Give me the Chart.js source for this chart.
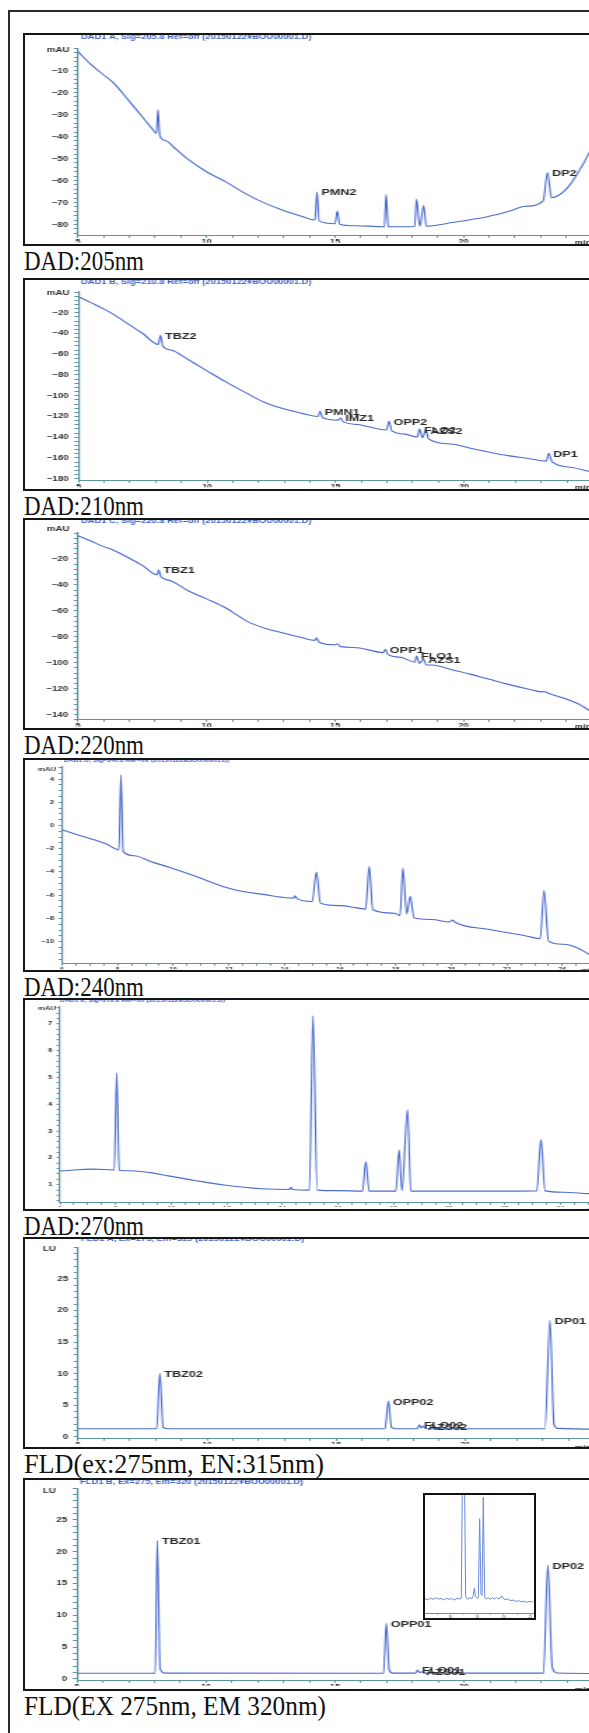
<!DOCTYPE html>
<html><head><meta charset="utf-8">
<script src="https://cdn.jsdelivr.net/npm/chart.js@4.4.1/dist/chart.umd.min.js"></script>
<style>
html,body{margin:0;padding:0;width:589px;height:1733px;overflow:hidden;background:#fff;}
#frame{position:absolute;left:8px;top:10px;width:700px;height:1800px;border:2px solid #2a2a2a;box-sizing:border-box;}
.panel{position:absolute;left:23px;width:620px;border:2px solid #161616;box-sizing:border-box;background:#fff;overflow:hidden;}
.panel canvas{position:absolute;left:0;top:0;}
.cap{position:absolute;left:24px;font-family:"Liberation Serif","DejaVu Serif",serif;font-size:28px;line-height:1;color:#111;white-space:pre;transform-origin:0 0;display:inline-block;}
#inset{position:absolute;left:423px;top:1493px;width:113px;height:127px;border:2px solid #111;box-sizing:border-box;background:#fff;overflow:hidden;}
</style></head><body>
<div id="frame"></div>
<div id="root"></div>
<script>
// ================= DATA =================
const dad205Time   = [5.0,5.5,6.0,6.4,7.0,7.5,7.9,8.05,8.11,8.18,8.4,8.8,9.3,10.0,10.75,11.5,12.2,13.0,13.7,14.22,14.3,14.38,15.0,15.09,15.18,15.8,16.6,16.92,16.99,17.07,17.6,18.1,18.17,18.3,18.45,18.55,19.0,19.5,20.2,21.0,21.8,22.4,23.1,23.27,23.42,24.0,24.54,24.9,25.3];
const dad205Signal = [-1.4,-7.2,-12.0,-15.8,-24.0,-31.0,-36.6,-38.6,-27.7,-39.4,-41.8,-45.6,-50.5,-56.0,-60.6,-65.8,-69.9,-73.6,-76.2,-77.9,-65.1,-78.3,-79.6,-73.8,-79.8,-80.5,-80.9,-81.0,-66.3,-81.0,-81.0,-80.9,-68.4,-80.8,-71.4,-80.7,-80.2,-79.2,-77.9,-76.2,-73.8,-71.7,-69.2,-56.3,-67.8,-63.9,-54.8,-47.2,-38.0];

const dad210Time   = [5.0,5.5,6.0,6.36,7.0,7.5,8.1,8.19,8.28,8.6,9.28,10.0,10.75,11.5,12.2,12.94,13.7,14.32,14.4,14.5,15.1,15.2,15.3,15.86,16.98,17.08,17.2,17.7,18.18,18.27,18.38,18.52,18.62,19.5,20.25,21.0,21.7,22.5,23.2,23.3,23.42,24.2,24.9,25.5];
const dad210Signal = [-4.5,-10.5,-16.5,-21.6,-32.0,-40.0,-50.5,-41.7,-52.3,-56.0,-65.3,-76.0,-86.9,-97.0,-106.0,-112.4,-117.0,-120.0,-115.0,-121.2,-123.5,-121.4,-125.2,-127.7,-133.0,-124.6,-134.2,-137.0,-139.8,-132.2,-140.5,-133.0,-141.6,-146.5,-150.7,-154.5,-157.7,-160.5,-163.0,-155.5,-163.6,-169.2,-173.0,-176.0];

const dad220Time   = [5.0,5.5,6.0,6.36,7.0,7.5,8.08,8.14,8.22,8.6,9.28,10.0,10.75,11.62,12.3,12.94,13.7,14.22,14.28,14.38,15.0,15.09,15.22,15.86,16.88,16.96,17.06,17.6,18.1,18.17,18.28,18.45,18.55,18.79,19.5,20.25,21.0,21.7,22.5,23.05,23.15,23.3,23.9,24.5,24.9,25.3];
const dad220Signal = [-2.1,-6.2,-10.5,-13.1,-19.5,-25.0,-32.2,-28.4,-33.5,-36.8,-44.5,-50.8,-57.8,-68.5,-73.6,-76.9,-80.6,-82.8,-80.8,-84.2,-86.2,-85.4,-87.6,-88.4,-92.2,-89.7,-93.8,-96.0,-99.6,-94.8,-100.5,-97.4,-101.8,-101.7,-105.2,-108.8,-112.8,-116.5,-120.2,-122.5,-122.2,-123.6,-127.2,-132.0,-136.9,-141.0];

const dad240Time   = [6.0,6.5,7.15,7.6,8.05,8.12,8.2,8.6,9.18,9.85,10.8,11.88,12.55,13.3,13.9,14.33,14.38,14.45,15.0,15.15,15.3,16.0,16.6,16.92,17.05,17.18,17.96,18.16,18.26,18.4,18.53,18.66,19.3,19.95,20.05,20.15,21.34,22.7,23.2,23.34,23.5,24.04,24.5,24.96,25.3];
const dad240Signal = [-0.37,-0.75,-1.23,-1.6,-2.1,4.34,-2.25,-2.6,-3.09,-3.6,-4.37,-5.31,-5.71,-5.95,-6.17,-6.25,-6.05,-6.3,-6.55,-4.0,-6.7,-6.9,-7.09,-7.2,-3.54,-7.25,-7.55,-7.75,-3.66,-7.6,-6.09,-7.95,-8.09,-8.3,-8.15,-8.35,-8.94,-9.51,-9.75,-5.6,-9.95,-10.23,-10.5,-11.09,-11.5];

const dad270Time   = [6.0,7.2,7.95,8.04,8.13,8.5,9.24,9.9,10.85,11.9,13.25,14.25,14.3,14.37,14.97,15.1,15.25,16.0,16.88,17.0,17.12,18.08,18.2,18.3,18.5,18.62,19.5,21.4,23.15,23.3,23.45,24.1,25.0,25.3];
const dad270Signal = [1.51,1.58,1.55,5.16,1.54,1.52,1.45,1.33,1.16,0.99,0.85,0.82,0.9,0.82,0.80,7.3,0.80,0.78,0.76,1.86,0.76,0.76,2.29,0.78,3.8,0.76,0.76,0.76,0.77,2.68,0.77,0.72,0.67,0.66];

const fld315Time   = [5.0,8.05,8.17,8.3,8.45,16.9,17.03,17.15,17.3,18.15,18.23,18.3,18.38,18.48,23.1,23.29,23.45,23.6,25.5];
const fld315Signal = [1.29,1.29,10.05,1.5,1.3,1.29,5.67,1.5,1.3,1.3,1.9,1.4,1.7,1.3,1.3,18.45,2.0,1.35,1.22];

const fld320Time   = [5.0,8.03,8.11,8.22,8.4,16.88,16.99,17.1,17.25,18.12,18.2,18.28,18.36,18.45,23.08,23.25,23.42,23.6,25.5];
const fld320Signal = [0.88,0.88,21.75,1.6,0.9,0.88,8.76,1.4,0.9,0.9,1.4,1.0,1.13,0.9,0.9,17.9,1.8,0.92,0.85];

const insetTime   = [14.1,14.3,14.5,14.7,14.9,15.1,15.3,15.5,15.7,15.9,16.1,16.3,16.5,16.7,16.82,16.92,17.05,17.15,17.3,17.45,17.6,17.72,17.8,17.88,18.0,18.1,18.2,18.3,18.38,18.47,18.58,18.7,18.85,19.0,19.15,19.3,19.45,19.6,19.75,19.85,19.95,20.1,20.3,20.5,20.7,20.9,21.1,21.3,21.5,21.7,21.9,22.1,22.2];
const insetSignal = [12.0,11.2,12.6,11.5,12.9,11.8,12.3,11.1,12.5,11.6,12.2,11.0,12.4,11.8,12.5,130,130,14,11.5,13,12,15,21,14,12.5,13,80,16,15,98,13,12,12.8,11.6,12.9,11.8,13.2,12.0,12.6,14.5,12.8,11.2,11.9,10.4,11.0,9.8,10.5,9.4,10.1,9.0,9.8,9.3,9.6];

// tick labels
const dad205YTicks = [-10,-20,-30,-40,-50,-60,-70,-80];
const dad210YTicks = [-20,-40,-60,-80,-100,-120,-140,-160,-180];
const dad220YTicks = [-20,-40,-60,-80,-100,-120,-140];
const dad240YTicks = [4,2,0,-2,-4,-6,-8,-10];
const dad270YTicks = [7,6,5,4,3,2,1];
const fldYTicks    = [25,20,15,10,5,0];
const minuteTicksA = [5,10,15,20];
const minuteTicksB = [6,8,10,12,14,16,18,20,22,24];
const insetXTicks  = [16,18,20,22];

// peak labels
const dad205PeakNames = ['PMN2','DP2'];
const dad205PeakTimes = [14.3,23.27];
const dad205PeakTops  = [-65.1,-56.3];
const dad210PeakNames = ['TBZ2','PMN1','IMZ1','OPP2','FLO2','AZS2','DP1'];
const dad210PeakTimes = [8.19,14.4,15.2,17.08,18.27,18.52,23.3];
const dad210PeakTops  = [-41.7,-115,-121.4,-124.6,-132.2,-134,-155.5];
const dad220PeakNames = ['TBZ1','OPP1','FLO1','AZS1'];
const dad220PeakTimes = [8.14,16.96,18.17,18.45];
const dad220PeakTops  = [-28.4,-89.7,-94.8,-97.4];
const fld315PeakNames = ['TBZ02','OPP02','FLO02','AZS02','DP01'];
const fld315PeakTimes = [8.17,17.03,18.23,18.38,23.29];
const fld315PeakTops  = [10.05,5.67,1.9,1.7,18.45];
const fld320PeakNames = ['TBZ01','OPP01','FLO01','AZS01','DP02'];
const fld320PeakTimes = [8.11,16.99,18.2,18.36,23.25];
const fld320PeakTops  = [21.75,8.76,1.4,1.13,17.9];

// ================= LAYOUT =================
Chart.defaults.font.family = '"Liberation Sans", Arial, sans-serif';
const TRACE = '#4a6bd0', AXIS = '#5f93a2', TICKTXT = '#2f2f2f', HEAD = '#3a5fcb';
const SX = 1.4; // horizontal stretch of the pasted chromatograms

const panels = [
 {boxTop:33, boxBottom:246, axisX:78, xMin:5, xMax:25.5, ppm:25.7, yTopPx:48.6, yMax:0, yBotPx:237, yMin:-85.1,
  t:dad205Time, v:dad205Signal, yMaj:dad205YTicks, yStep:2, xMaj:minuteTicksA, xStep:1,
  header:'DAD1 A, Sig=205.8 Ref=off (20150122¥BOU00001.D)', hx:81, hy:37, hs:6.7, unit:'mAU', ux:69.5, uy:50, mx:575,
  tickSize:7, xTickSize:6.5, names:dad205PeakNames, pt:dad205PeakTimes, pv:dad205PeakTops, cap:'DAD:205nm', capW:120},
 {boxTop:278, boxBottom:491, axisX:78.5, xMin:5, xMax:25.5, ppm:25.7, yTopPx:292, yMax:0, yBotPx:482.5, yMin:-182,
  t:dad210Time, v:dad210Signal, yMaj:dad210YTicks, yStep:4, xMaj:minuteTicksA, xStep:1,
  header:'DAD1 B, Sig=210.8 Ref=off (20150122¥BOU00001.D)', hx:81, hy:282, hs:6.7, unit:'mAU', ux:69.5, uy:293, mx:575,
  tickSize:7, xTickSize:6.5, names:dad210PeakNames, pt:dad210PeakTimes, pv:dad210PeakTops, cap:'DAD:210nm', capW:120},
 {boxTop:518, boxBottom:730, axisX:78, xMin:5, xMax:25.5, ppm:25.7, yTopPx:533, yMax:0, yBotPx:721, yMin:-144,
  t:dad220Time, v:dad220Signal, yMaj:dad220YTicks, yStep:4, xMaj:minuteTicksA, xStep:1,
  header:'DAD1 C, Sig=220.8 Ref=off (20150122¥BOU00001.D)', hx:81, hy:521, hs:6.7, unit:'mAU', ux:69.5, uy:529, mx:575,
  tickSize:7, xTickSize:6.5, names:dad220PeakNames, pt:dad220PeakTimes, pv:dad220PeakTops, cap:'DAD:220nm', capW:120},
 {boxTop:758, boxBottom:972, axisX:62, xMin:6, xMax:25.3, ppm:27.8, yTopPx:766, yMax:5.1, yBotPx:964.4, yMin:-11.9,
  t:dad240Time, v:dad240Signal, yMaj:dad240YTicks, yStep:0.5, xMaj:minuteTicksB, xStep:0.5,
  header:'DAD1 D, Sig=240.8 Ref=off (20150122¥BOU00001.D)', hx:64, hy:761, hs:4.8, unit:'mAU', ux:56, uy:769, mx:581,
  tickSize:5.5, xTickSize:5, names:[], pt:[], pv:[], cap:'DAD:240nm', capW:120},
 {boxTop:998, boxBottom:1211, axisX:60, xMin:6, xMax:25.3, ppm:27.8, yTopPx:1005.7, yMax:7.65, yBotPx:1205, yMin:0.33,
  t:dad270Time, v:dad270Signal, yMaj:dad270YTicks, yStep:0.2, xMaj:minuteTicksB, xStep:0.5,
  header:'DAD1 E, Sig=270.8 Ref=off (20150122¥BOU00001.D)', hx:60, hy:1001, hs:4.8, unit:'mAU', ux:56, uy:1008, mx:581,
  tickSize:5.5, xTickSize:5, names:[], pt:[], pv:[], cap:'DAD:270nm', capW:120},
 {boxTop:1237, boxBottom:1449, axisX:78, xMin:5, xMax:25.5, ppm:25.8, yTopPx:1246, yMax:30, yBotPx:1442, yMin:-0.3,
  t:fld315Time, v:fld315Signal, yMaj:fldYTicks, yStep:1, xMaj:minuteTicksA, xStep:1,
  header:'FLD1 A, Ex=275, Em=315 (20150122¥BOU00001.D)', hx:81, hy:1239.5, hs:6.7, unit:'LU', ux:56, uy:1249, mx:575,
  tickSize:7, xTickSize:6.5, names:fld315PeakNames, pt:fld315PeakTimes, pv:fld315PeakTops, cap:'FLD(ex:275nm, EN:315nm)', capW:300},
 {boxTop:1478, boxBottom:1691, axisX:77, xMin:5, xMax:25.5, ppm:25.8, yTopPx:1488, yMax:30, yBotPx:1684, yMin:-0.3,
  t:fld320Time, v:fld320Signal, yMaj:fldYTicks, yStep:1, xMaj:minuteTicksA, xStep:1,
  header:'FLD1 B, Ex=275, Em=320 (20150122¥BOU00001.D)', hx:80, hy:1482, hs:6.7, unit:'LU', ux:56, uy:1491, mx:575,
  tickSize:7, xTickSize:6.5, names:fld320PeakNames, pt:fld320PeakTimes, pv:fld320PeakTops, cap:'FLD(EX 275nm, EM 320nm)', capW:302}
];

function stepTicks(lo, hi, step){
  const out=[]; const s=Math.ceil(lo/step-1e-9), e=Math.floor(hi/step+1e-9);
  for(let i=s;i<=e;i++) out.push(+(i*step).toFixed(6));
  return out;
}
function fmt(v){ return String(v).replace('-', '\u2212'); }
function isMajor(list, v){ return list.some(m=>Math.abs(m-v)<1e-6); }

const annot = {
  id:'annot',
  afterDraw(chart, args, o){
    const ctx = chart.ctx, xs = chart.scales.x, ys = chart.scales.y;
    ctx.save();
    ctx.textBaseline='middle'; ctx.textAlign='left';
    ctx.fillStyle = HEAD; ctx.font = 'bold '+o.hs+'px "Liberation Sans", Arial, sans-serif';
    ctx.fillText(o.header, o.hx, o.hy);
    ctx.fillStyle = TICKTXT; ctx.font = 'bold '+o.ts+'px "Liberation Sans", Arial, sans-serif';
    ctx.textAlign='right'; ctx.fillText(o.unit, o.ux, o.uy);
    ctx.textAlign='left'; ctx.font = 'bold '+o.xts+'px "Liberation Sans", Arial, sans-serif';
    ctx.fillText('min', o.mx, o.my);
    ctx.font = 'bold 9px "Liberation Sans", Arial, sans-serif';
    ctx.fillStyle = '#2a2a2a';
    for(let i=0;i<o.names.length;i++){
      const px = xs.getPixelForValue(o.pt[i]) + o.dx;
      const py = ys.getPixelForValue(o.pv[i]) + 1;
      ctx.fillText(o.names[i], px, py);
    }
    ctx.restore();
  }
};

const root = document.getElementById('root');
panels.forEach((P, k)=>{
  const box = document.createElement('div');
  box.className='panel';
  box.style.top = P.boxTop+'px';
  box.style.height = (P.boxBottom-P.boxTop)+'px';
  root.appendChild(box);
  const cLeft = 25, cTop = P.boxTop+2;
  const cssW = 616, H = P.boxBottom-P.boxTop-4;
  const W = Math.round(cssW/SX);
  const cv = document.createElement('canvas');
  cv.width = W; cv.height = H;
  cv.style.width = (W*SX)+'px'; cv.style.height = H+'px';
  box.appendChild(cv);

  const left = (P.axisX - cLeft)/SX;
  const right = (P.axisX + (P.xMax-P.xMin)*P.ppm - cLeft)/SX;
  const top = P.yTopPx - cTop;
  const bottom = P.yBotPx - cTop;
  const yTickVals = stepTicks(P.yMin, P.yMax, P.yStep);
  const xTickVals = stepTicks(P.xMin, P.xMax, P.xStep);
  const pts = P.t.map((t,i)=>({x:t, y:P.v[i]}));

  new Chart(cv, {
    type:'line',
    data:{datasets:[{data:pts, borderColor:TRACE, borderWidth:1.1, pointRadius:0, fill:false, cubicInterpolationMode:'monotone'}]},
    options:{
      responsive:false, animation:false, devicePixelRatio:1,
      layout:{padding:{left:0, top:top, right:Math.max(0, W-right), bottom:0}},
      plugins:{legend:{display:false}, tooltip:{enabled:false},
        annot:{header:P.header, hx:(P.hx-cLeft)/SX, hy:P.hy-cTop, hs:P.hs, unit:P.unit, ux:(P.ux-cLeft)/SX, uy:P.uy-cTop,
               mx:(P.mx-cLeft)/SX, my:P.yBotPx-cTop+6, ts:P.tickSize, xts:P.xTickSize,
               names:P.names, pt:P.pt, pv:P.pv, dx:4.5/SX}},
      scales:{
        x:{type:'linear', min:P.xMin, max:P.xMax,
           afterBuildTicks:s=>{ s.ticks = xTickVals.map(v=>({value:v})); },
           afterFit:s=>{ s.height = H-bottom; },
           grid:{drawOnChartArea:false, drawTicks:true, tickLength:2, color:AXIS},
           border:{display:true, color:AXIS, width:1},
           ticks:{autoSkip:false, maxRotation:0, minRotation:0, padding:0.5, color:TICKTXT,
                  font:{size:P.xTickSize, weight:'bold'},
                  callback:(v)=> isMajor(P.xMaj, v) ? String(v) : ''}},
        y:{type:'linear', min:P.yMin, max:P.yMax,
           afterBuildTicks:s=>{ s.ticks = yTickVals.map(v=>({value:v})); },
           afterFit:s=>{ s.width = left; },
           grid:{drawOnChartArea:false, drawTicks:true, tickLength:P.tickSize<7?2.5:3, color:AXIS},
           border:{display:true, color:AXIS, width:1.2},
           ticks:{autoSkip:false, padding:P.tickSize<7?3:4, color:TICKTXT, font:{size:P.tickSize, weight:'bold'},
                  callback:(v)=> isMajor(P.yMaj, v) ? fmt(v) : ''}}
      }
    },
    plugins:[annot]
  });
  cv.style.width = (W*SX)+'px'; cv.style.height = H+'px';

  const cap = document.createElement('span');
  cap.className='cap';
  cap.textContent = P.cap;
  cap.style.top = (P.boxBottom+1)+'px';
  root.appendChild(cap);
  const w = cap.getBoundingClientRect().width;
  cap.style.transform = 'scaleX('+(P.capW/w).toFixed(4)+')';
});

// ---- inset (enlarged view in FLD 320 panel) ----
(function(){
  const box = document.createElement('div');
  box.id='inset';
  root.appendChild(box);
  const cv = document.createElement('canvas');
  cv.width = 109; cv.height = 123;
  cv.style.width='109px'; cv.style.height='123px';
  box.appendChild(cv);
  const pts = insetTime.map((t,i)=>({x:t, y:insetSignal[i]}));
  const xTickVals = stepTicks(14.1, 22.2, 1);
  new Chart(cv, {
    type:'line',
    data:{datasets:[{data:pts, borderColor:'#6a88dc', borderWidth:1, pointRadius:0, fill:false, tension:0}]},
    options:{
      responsive:false, animation:false, devicePixelRatio:1,
      layout:{padding:{left:0,top:0,right:1,bottom:0}},
      plugins:{legend:{display:false}, tooltip:{enabled:false}},
      scales:{
        x:{type:'linear', min:14.1, max:22.2,
           afterBuildTicks:s=>{ s.ticks = xTickVals.map(v=>({value:v})); },
           afterFit:s=>{ s.height = 5; },
           grid:{drawOnChartArea:false, tickLength:1.5, color:AXIS},
           border:{display:true, color:AXIS, width:1},
           ticks:{autoSkip:false, maxRotation:0, padding:0, color:'#555', font:{size:3.5},
                  callback:(v)=> isMajor(insetXTicks, v) ? String(v) : ''}},
        y:{type:'linear', min:0, max:100, display:false}
      }
    }
  });
  cv.style.width='109px'; cv.style.height='123px';
})();
</script>
</body></html>
